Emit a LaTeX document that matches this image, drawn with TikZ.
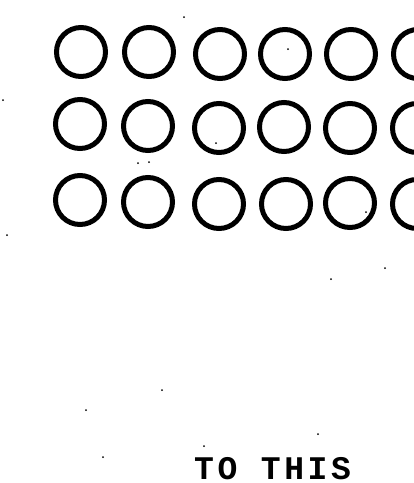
\documentclass[tikz,border=0pt]{standalone}
\usepackage{fontspec}
\newfontfamily\typefont[LetterSpace=11]{Liberation Mono}
\begin{document}
\begin{tikzpicture}[x=1pt,y=-1pt,
  ring/.style={circle,draw=black,line width=5pt,minimum size=49pt,inner sep=0pt},
  speck/.style={fill=black,circle,inner sep=0pt,minimum size=2pt}]
\useasboundingbox (0,0) rectangle (414,483);
% row 1
\node[ring] (a1) at (81,52) {};
\node[ring] (a2) at (149,52) {};
\node[ring] (a3) at (220,54) {};
\node[ring] (a4) at (285,54) {};
\node[ring] (a5) at (351,54) {};
\node[ring] (a6) at (418,54) {};
% row 2
\node[ring] (b1) at (80,124) {};
\node[ring] (b2) at (148,126) {};
\node[ring] (b3) at (219,128) {};
\node[ring] (b4) at (284,127) {};
\node[ring] (b5) at (350,128) {};
\node[ring] (b6) at (417,128) {};
% row 3
\node[ring] (c1) at (80,200) {};
\node[ring] (c2) at (148,202) {};
\node[ring] (c3) at (219,204) {};
\node[ring] (c4) at (286,204) {};
\node[ring] (c5) at (350,203) {};
\node[ring] (c6) at (417,204) {};
% text
\node[anchor=base west,inner sep=0pt,text depth=0pt] (t) at (194,479) {\typefont\bfseries\fontsize{33}{33}\selectfont TO THIS};
% specks
\foreach \p [count=\i] in {(3,100),(7,235),(385,268),(331,279),(162,390),(86,410),(318,434),(103,457),(204,446),(288,49),(216,143),(366,212),(184,17),(138,163),(149,162)}
  \node[speck] (s\i) at \p {};
\end{tikzpicture}
\end{document}
